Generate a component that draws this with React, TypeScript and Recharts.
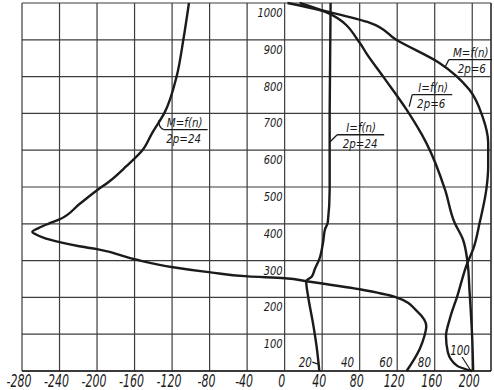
import React from "react";
import { LineChart, Line, XAxis, YAxis, CartesianGrid, ReferenceLine, ReferenceDot } from "recharts";

const X_MIN = -280;
const X_MAX = 220;
const X_TICKS = [-280, -240, -200, -160, -120, -80, -40, 0, 40, 80, 120, 160, 200];
const N_TICKS = [0, 100, 200, 300, 400, 500, 600, 700, 800, 900, 1000];

// M = f(n), 2p = 24 (n from bottom to top)
const M24_N = [0, 60, 95, 122, 163, 200, 222, 244, 252, 257, 268, 282, 303, 331, 339, 350, 363, 371, 378, 389, 400, 412, 453, 493, 515, 556, 602, 648, 702, 802, 900, 1000];
const M24_V = [130, 144, 149, 151, 141, 119, 80, 23, 0, -39, -79, -119, -159, -200, -219, -240, -258, -265, -269, -262, -252, -240, -219, -199, -187, -169, -151, -141, -128, -115, -108, -102];

// I = f(n), 2p = 24
const I24_N = [0, 68, 133, 203, 244, 257, 276, 304, 350, 385, 404, 493, 700, 1000];
const I24_V = [37, 34, 30, 25, 23, 29, 32, 37, 41, 43, 46, 48, 48, 49];

// M = f(n), 2p = 6
const M6_N = [0, 14, 51, 95, 141, 203, 295, 331, 404, 493, 556, 620, 691, 764, 837, 900, 946, 973, 1000];
const M6_V = [200, 184, 174, 172, 176, 184, 195, 201, 208, 215, 217, 217, 211, 197, 165, 119, 91, 51, 3];

// I = f(n), 2p = 6
const I6_N = [0, 87, 222, 295, 358, 404, 493, 620, 710, 800, 864, 892, 973, 1000];
const I6_V = [201, 200, 197, 195, 190, 181, 171, 151, 130, 105, 87, 80, 46, 16];

// curve captions, anchored at the left end of the underline
const NOTE_TOP = ["M=f(n)", "I=f(n)", "I=f(n)", "M=f(n)"];
const NOTE_BOTTOM = ["2p=24", "2p=24", "2p=6", "2p=6"];
const NOTE_X = [-129, 56, 136, 175];
const NOTE_N = [656, 642, 751, 846];

// current scale written along the bottom
const AMP_TEXT = ["20", "40", "60", "80", "100"];
const AMP_X = [22, 67, 108, 149, 187];
const AMP_N = [24, 24, 24, 24, 57];

const W = 494;
const H = 390;
const MARGIN = { top: 3, right: 3, bottom: 0, left: 21 };
const PLOT_W = W - MARGIN.left - 1 - MARGIN.right;
const X0 = MARGIN.left + 1 + ((0 - X_MIN) / (X_MAX - X_MIN)) * PLOT_W;

const FONT = "'DejaVu Sans Condensed', 'Liberation Sans', sans-serif";
const INK = "#1b1b1b";
const GRID = "#3c3c3c";

const NOTE_LAYOUT = [
  { len: 44, lead: "M0,0 Q-5,-2 -5,-9", dxTop: 21, dxBot: 20 },
  { len: 47, lead: "M0,0 L-8,8", dxTop: 24, dxBot: 23 },
  { len: 40, lead: "M0,0 L-3,12", dxTop: 21, dxBot: 19 },
  { len: 43, lead: "M0,0 L-4,8", dxTop: 22, dxBot: 23 },
];
const AMP_LEAD = ["M7,0 L13,2", "", "", "", "M2,7 L11,21"];

const rows = (n: number[], v: number[]) => n.map((k, i) => ({ n: k, v: v[i] }));
const CURVES = [rows(M24_N, M24_V), rows(I24_N, I24_V), rows(M6_N, M6_V), rows(I6_N, I6_V)];

// narrow italic lettering, like the drafting font of the original
function Txt({ x, y, size, sx, anchor = "middle", children }: any) {
  return (
    <text
      transform={`translate(${x},${y}) scale(${sx},1)`}
      textAnchor={anchor}
      fontFamily={FONT}
      fontStyle="italic"
      fontSize={size}
      fill={INK}
    >
      {children}
    </text>
  );
}

function XTick({ x, y, payload }: any) {
  return <Txt x={x - 3} y={y + 16} size={17} sx={0.72}>{payload.value}</Txt>;
}

function NTick({ y, payload }: any) {
  if (payload.value === 0) return null;
  return <Txt x={X0 - 2} y={y + 14} size={13} sx={0.85} anchor="end">{payload.value}</Txt>;
}

function Note({ vb, i }: any) {
  const { x, y } = vb;
  const l = NOTE_LAYOUT[i];
  return (
    <g transform={`translate(${x},${y})`}>
      <path d={l.lead} stroke={INK} strokeWidth={1.3} fill="none" />
      <line x1={0} y1={0} x2={l.len} y2={0} stroke={INK} strokeWidth={1.3} />
      <Txt x={l.dxTop} y={-3} size={13} sx={0.88}>{NOTE_TOP[i]}</Txt>
      <Txt x={l.dxBot} y={13} size={13} sx={0.88}>{NOTE_BOTTOM[i]}</Txt>
    </g>
  );
}

function Amp({ vb, i }: any) {
  const { x, y } = vb;
  return (
    <g transform={`translate(${x},${y})`}>
      {AMP_LEAD[i] && <path d={AMP_LEAD[i]} stroke={INK} strokeWidth={1.2} fill="none" />}
      <Txt x={0} y={5} size={14} sx={0.82}>{AMP_TEXT[i]}</Txt>
    </g>
  );
}

export default function App() {
  return (
    <div style={{ position: "absolute", left: 0, top: 0, width: W, height: H, background: "#fff" }}>
      <LineChart width={W} height={H} layout="vertical" margin={MARGIN}>
        <CartesianGrid stroke={GRID} strokeWidth={1.2} />
        <XAxis
          type="number"
          domain={[X_MIN, X_MAX]}
          ticks={X_TICKS}
          interval={0}
          height={19}
          tickSize={0}
          tickMargin={0}
          tickLine={false}
          axisLine={{ stroke: INK, strokeWidth: 1.6 }}
          tick={<XTick />}
        />
        <YAxis
          type="number"
          dataKey="n"
          domain={[0, 1000]}
          ticks={N_TICKS}
          reversed
          interval={0}
          width={1}
          tickSize={0}
          tickMargin={0}
          tickLine={false}
          axisLine={false}
          tick={<NTick />}
        />
        <ReferenceLine x={X_MAX} stroke={GRID} strokeWidth={1.4} />
        {CURVES.map((d, i) => (
          <Line
            key={i}
            data={d}
            dataKey="v"
            type="monotone"
            stroke={INK}
            strokeWidth={2.4}
            dot={false}
            activeDot={false}
            isAnimationActive={false}
          />
        ))}
        {NOTE_TOP.map((_, i) => (
          <ReferenceDot
            key={"note" + i}
            x={NOTE_X[i]}
            y={NOTE_N[i]}
            r={0}
            fill="none"
            stroke="none"
            ifOverflow="visible"
            label={(p: any) => <Note vb={p.viewBox} i={i} />}
          />
        ))}
        {AMP_TEXT.map((_, i) => (
          <ReferenceDot
            key={"amp" + i}
            x={AMP_X[i]}
            y={AMP_N[i]}
            r={0}
            fill="none"
            stroke="none"
            ifOverflow="visible"
            label={(p: any) => <Amp vb={p.viewBox} i={i} />}
          />
        ))}
      </LineChart>
    </div>
  );
}
